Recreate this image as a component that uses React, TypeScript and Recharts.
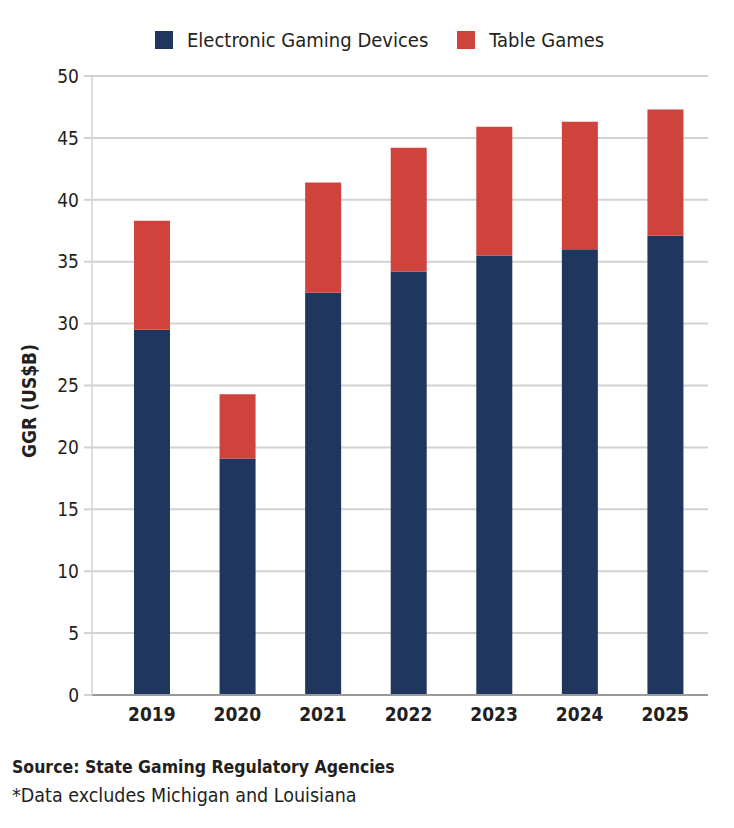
import { Bar, BarChart, CartesianGrid, XAxis, YAxis } from "recharts";

const years = ["2019", "2020", "2021", "2022", "2023", "2024", "2025"];
const electronicGaming = [29.5, 19.1, 32.5, 34.2, 35.5, 36.0, 37.1];
const tableGames = [8.8, 5.2, 8.9, 10.0, 10.4, 10.3, 10.2];
const yTicks = [0, 5, 10, 15, 20, 25, 30, 35, 40, 45, 50];

const NAVY = "#1f365e";
const RED = "#d0423c";
const INK = "#231f20";
const FONT = '"DejaVu Sans Condensed", "DejaVu Sans", sans-serif';
const STRETCH = "condensed";

const data = years.map((year, i) => ({
  year,
  egd: electronicGaming[i],
  table: tableGames[i],
}));

const legendItems = [
  { label: "Electronic Gaming Devices", color: NAVY },
  { label: "Table Games", color: RED },
];

function YLabel() {
  return (
    <text
      transform="translate(36,401) rotate(-90)"
      textAnchor="middle"
      fill={INK}
      fontFamily={FONT}
      fontSize={19}
      fontWeight={700}
      style={{ fontStretch: STRETCH }}
    >
      GGR (US$B)
    </text>
  );
}

export default function App() {
  return (
    <div style={{ position: "fixed", top: 0, left: 0, width: 734, height: 828, background: "#fff", fontFamily: FONT, fontStretch: STRETCH, color: INK }}>
      <div style={{ position: "absolute", top: 27, left: 155, display: "flex", alignItems: "center", fontSize: 20, lineHeight: "26px" }}>
        {legendItems.map((item, i) => (
          <div key={item.label} style={{ display: "flex", alignItems: "center", marginRight: i === 0 ? 29 : 0 }}>
            <span style={{ width: 18, height: 18, background: item.color, display: "inline-block", marginRight: 14 }} />
            <span>{item.label}</span>
          </div>
        ))}
      </div>

      <BarChart
        width={734}
        height={740}
        data={data}
        margin={{ top: 76, right: 26, bottom: 15, left: 0 }}
        barSize={36}
        style={{ position: "absolute", top: 0, left: 0 }}
      >
        <CartesianGrid vertical={false} stroke="#d2d2d2" strokeWidth={2} />
        <XAxis
          dataKey="year"
          axisLine={{ stroke: "#9a9a9a", strokeWidth: 2 }}
          tickLine={false}
          tickSize={0}
          tickMargin={13}
          height={30}
          padding={{ left: 17, right: 0 }}
          tick={{ fill: INK, fontSize: 19, fontWeight: 700, fontFamily: FONT, style: { fontStretch: STRETCH } }}
        />
        <YAxis
          domain={[0, 50]}
          ticks={yTicks}
          width={92}
          axisLine={{ stroke: "#d2d2d2", strokeWidth: 1.5 }}
          tickLine={{ stroke: "#d2d2d2", strokeWidth: 2 }}
          tickSize={8}
          tickMargin={5}
          tick={{ fill: INK, fontSize: 19, fontFamily: FONT, style: { fontStretch: STRETCH } }}
          label={<YLabel />}
        />
        <Bar dataKey="egd" stackId="a" fill={NAVY} isAnimationActive={false} />
        <Bar dataKey="table" stackId="a" fill={RED} isAnimationActive={false} />
      </BarChart>

      <div style={{ position: "absolute", top: 755, left: 12, fontSize: 17.5, fontWeight: 700, lineHeight: "24px" }}>
        Source: State Gaming Regulatory Agencies
      </div>
      <div style={{ position: "absolute", top: 784, left: 12, fontSize: 19.5, lineHeight: "24px" }}>
        *Data excludes Michigan and Louisiana
      </div>
    </div>
  );
}
